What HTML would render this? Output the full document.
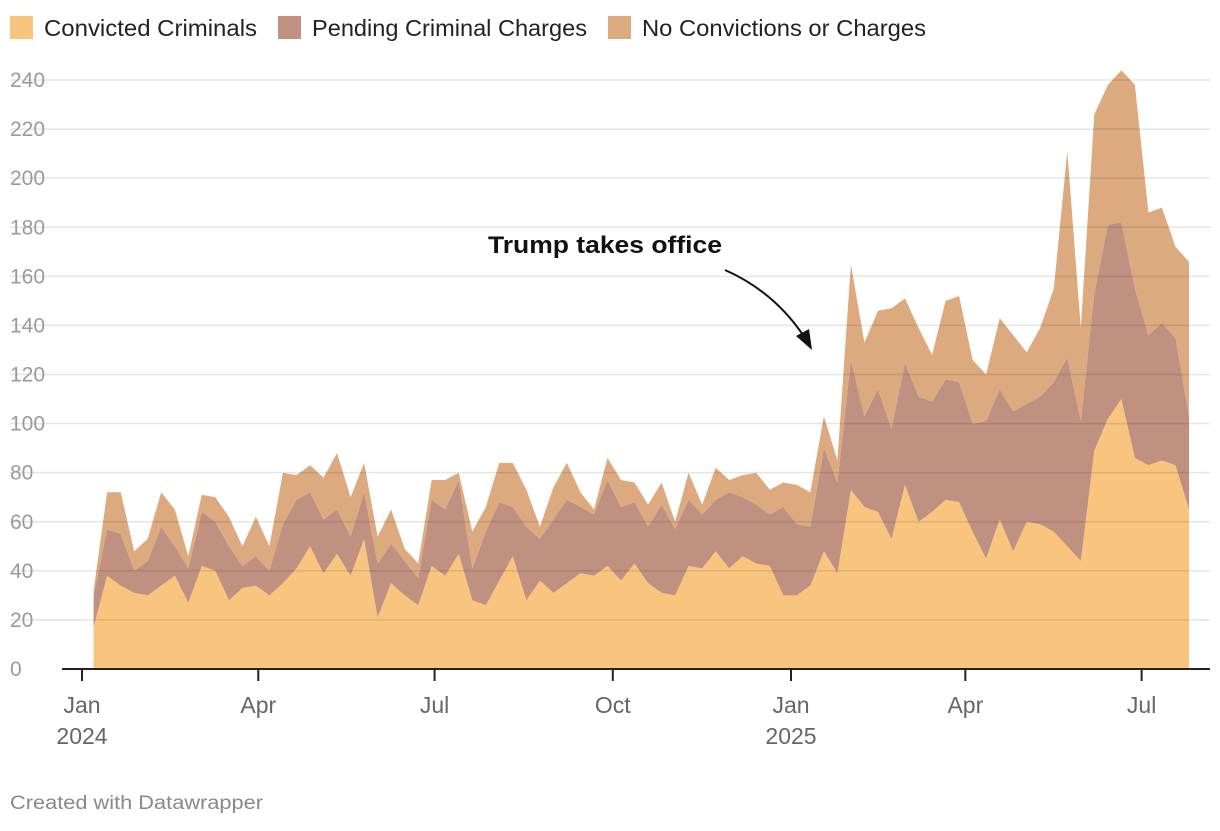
<!DOCTYPE html>
<html><head><meta charset="utf-8">
<style>
body{margin:0;background:#fff;font-family:"Liberation Sans",Arial,sans-serif;}
svg text{font-family:"Liberation Sans",Arial,sans-serif;}
</style></head>
<body>
<svg id="chart" width="1220" height="826" viewBox="0 0 1220 826" xmlns="http://www.w3.org/2000/svg">
<g>
<g><rect x="10" y="16" width="23" height="23" fill="#f9c47e"/><text x="44" y="36" font-size="23" fill="#222" textLength="213" lengthAdjust="spacingAndGlyphs">Convicted Criminals</text></g>
<g><rect x="278" y="16" width="23" height="23" fill="#c09080"/><text x="312" y="36" font-size="23" fill="#222" textLength="275" lengthAdjust="spacingAndGlyphs">Pending Criminal Charges</text></g>
<g><rect x="608" y="16" width="23" height="23" fill="#dcaa7e"/><text x="642" y="36" font-size="23" fill="#222" textLength="284" lengthAdjust="spacingAndGlyphs">No Convictions or Charges</text></g>
</g>
<g id="areas"></g>
<g id="grid"></g>
<g id="yaxis"></g>
<g id="xaxis"></g>
<g>
<text x="488" y="253" font-size="24" font-weight="bold" fill="#111" textLength="234" lengthAdjust="spacingAndGlyphs">Trump takes office</text>
<path d="M725,270 Q775,292 805,338" fill="none" stroke="#111" stroke-width="2"/>
<polygon points="812,350 796,336 809,329" fill="#111"/>
</g>
<text x="10" y="809" font-size="19" fill="#888" textLength="253" lengthAdjust="spacingAndGlyphs">Created with Datawrapper</text>
</svg>
<script>
const startDate = "2024-01-07";
const convicted = [17,38,34,31,30,34,38,27,42,40,28,33,34,30,35,41,50,39,47,38,53,21,35,30,26,42,38,47,28,26,36,46,28,36,31,35,39,38,42,36,43,35,31,30,42,41,48,41,46,43,42,30,30,34,48,39,73,66,64,53,75,60,64,69,68,56,45,61,48,60,59,56,50,44,89,102,110,86,83,85,83,65];
const pending = [13,19,21,9,14,24,12,14,22,20,22,9,12,10,24,28,22,22,18,16,19,22,16,14,11,27,27,30,13,30,32,20,30,17,30,34,27,25,35,30,25,23,36,27,27,22,21,31,24,24,21,36,29,24,42,37,53,37,50,45,50,51,45,49,49,44,56,53,57,48,52,61,77,57,64,79,72,69,53,56,52,38];
const noConvictions = [2,15,17,8,9,14,15,5,7,10,12,8,16,10,21,10,11,17,23,16,12,11,14,5,6,8,12,3,15,10,16,18,15,5,13,15,6,2,9,11,8,9,9,3,11,4,13,5,9,13,10,10,16,14,13,9,39,30,32,49,26,28,19,32,35,26,19,29,31,21,28,38,84,38,73,57,62,83,50,47,37,63];
const yTicks = [0,20,40,60,80,100,120,140,160,180,200,220,240];
const xTickDates = ["2024-01-01","2024-04-01","2024-07-01","2024-10-01","2025-01-01","2025-04-01","2025-07-01"];
const xTickLabels = ["Jan|2024","Apr","Jul","Oct","Jan|2025","Apr","Jul"];

const NS="http://www.w3.org/2000/svg";
const origin=Date.UTC(2024,0,1);
function dayOf(s){const p=s.split("-");return (Date.UTC(+p[0],+p[1]-1,+p[2])-origin)/86400000;}
function xScale(day){return 82+day*(709/366);}
function yScale(v){return 669-v*(589/240);}
const d0=dayOf(startDate);
const span=7*(convicted.length-1);
function xPoint(i){const d=d0+7*i;return xScale(d)-3*(d-d0)/span;}
const xs=convicted.map((_,i)=>xPoint(i));
function el(t,a){const e=document.createElementNS(NS,t);for(const k in a)e.setAttribute(k,a[k]);return e;}
const areas=document.getElementById("areas");
const series=[convicted,pending,noConvictions];
const colors=["#f9c47e","#c09080","#dcaa7e"];
const names=["area-convicted","area-pending","area-no-convictions"];
let base=convicted.map(()=>0);
series.forEach((s,k)=>{
  const top=s.map((v,i)=>base[i]+v);
  let d="M"+xs.map((x,i)=>x.toFixed(1)+","+yScale(top[i]).toFixed(1)).join("L");
  for(let i=xs.length-1;i>=0;i--)d+="L"+xs[i].toFixed(1)+","+yScale(base[i]).toFixed(1);
  d+="Z";
  const p=el("path",{d:d,fill:colors[k]});
  
  
  areas.appendChild(p);
  base=top;
});
const grid=document.getElementById("grid"),yaxis=document.getElementById("yaxis");
yTicks.forEach(v=>{
  const y=yScale(v);
  if(v>0){
    const l=el("line",{x1:10,x2:1210,y1:y,y2:y,stroke:"rgba(0,0,0,0.1)","stroke-width":1.5});
    
    
    grid.appendChild(l);
  }
  const t=el("text",{x:10,y:y+7,"font-size":21,fill:"#9a9a9a"});
  
  
  t.textContent=v;
  yaxis.appendChild(t);
});
const xaxis=document.getElementById("xaxis");
const ax=el("line",{x1:62,x2:1210,y1:669,y2:669,stroke:"#222","stroke-width":2});


xaxis.appendChild(ax);
xTickDates.forEach((d,i)=>{
  const x=xScale(dayOf(d));
  const tk=el("line",{x1:x,x2:x,y1:669,y2:681,stroke:"#222","stroke-width":2});
  
  
  xaxis.appendChild(tk);
  const parts=xTickLabels[i].split("|");
  parts.forEach((p,j)=>{
    const t=el("text",{x:x,y:713+j*31,"font-size":23,fill:"#666","text-anchor":"middle"});
    
    
    t.textContent=p;
    xaxis.appendChild(t);
  });
});
</script>
</body></html>
